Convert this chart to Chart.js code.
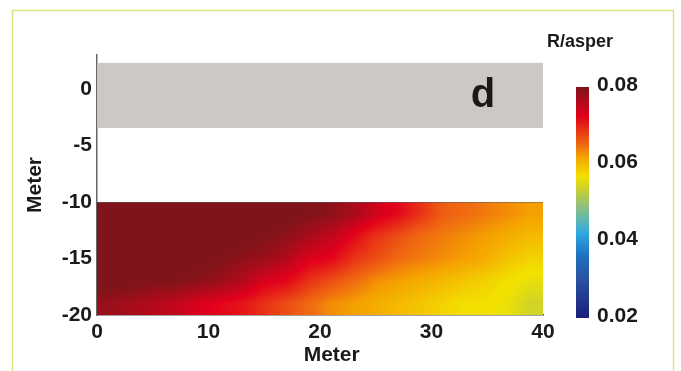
<!DOCTYPE html>
<html><head><meta charset="utf-8">
<script src="https://cdn.jsdelivr.net/npm/chart.js@4/dist/chart.umd.min.js"></script>
<style>html,body{margin:0;padding:0;background:#fff}#wrap{width:681px;height:371px;position:relative}</style>
</head><body><div id="wrap"><canvas id="c" width="681" height="371"></canvas></div>
<script>
// ---- data ----
const xTicks = [0, 10, 20, 30, 40];
const yTicks = [-20, -15, -10, -5, 0];
const colorTicks = [0.02, 0.04, 0.06, 0.08];
const colorRange = [0.02, 0.08];
const gridX = [1, 3, 5, 7, 9, 11, 13, 15, 17, 19, 21, 23, 25, 27, 29, 31, 33, 35, 37, 39];
const gridY = [-11, -13, -15, -17, -19];
const rowM11 = [.082, .082, .082, .082, .082, .082, .082, .081, .081, .080, .079, .077, .074, .072, .069, .066, .065, .064, .063, .062];
const rowM13 = [.082, .082, .082, .082, .082, .081, .081, .080, .079, .077, .075, .072, .069, .067, .065, .064, .063, .062, .061, .060];
const rowM15 = [.082, .082, .082, .081, .081, .080, .079, .078, .076, .073, .072, .069, .067, .065, .064, .063, .062, .061, .059, .058];
const rowM17 = [.081, .081, .080, .080, .079, .078, .076, .073, .072, .069, .067, .065, .063, .062, .061, .060, .059, .058, .057, .056];
const rowM19 = [.078, .077, .076, .075, .073, .072, .071, .069, .067, .065, .063, .062, .061, .060, .059, .058, .057, .057, .056, .054];
const gridValues = [rowM11, rowM13, rowM15, rowM17, rowM19];
const heatX = [0, 40];
const heatY = [-10, -20];
const grayX = [0, 40];
const grayY = [2.3, -3.45];
const panelLabel = 'd';
const colorTitle = 'R/asper';

// ---- colormap ----
const cmap = [
  [0.0200, [27, 31, 122]],
  [0.0300, [42, 82, 160]],
  [0.0360, [32, 112, 192]],
  [0.0420, [48, 168, 224]],
  [0.0456, [96, 184, 176]],
  [0.0490, [144, 192, 128]],
  [0.0533, [200, 208, 48]],
  [0.0568, [242, 226, 0]],
  [0.0620, [245, 160, 0]],
  [0.0646, [240, 112, 16]],
  [0.0724, [226, 0, 27]],
  [0.0800, [128, 20, 26]]
];
function colorFor(v) {
  if (v <= cmap[0][0]) return cmap[0][1];
  if (v >= cmap[cmap.length - 1][0]) return cmap[cmap.length - 1][1];
  for (let i = 1; i < cmap.length; i++) {
    if (v <= cmap[i][0]) {
      const a = cmap[i - 1], b = cmap[i];
      const t = (v - a[0]) / (b[0] - a[0]);
      return [0, 1, 2].map(k => a[1][k] + (b[1][k] - a[1][k]) * t);
    }
  }
}
function fracIndex(arr, v) {
  const n = arr.length;
  const asc = arr[n - 1] > arr[0];
  if (asc ? v <= arr[0] : v >= arr[0]) return 0;
  if (asc ? v >= arr[n - 1] : v <= arr[n - 1]) return n - 1;
  for (let i = 1; i < n; i++) {
    if (asc ? v <= arr[i] : v >= arr[i]) return i - 1 + (v - arr[i - 1]) / (arr[i] - arr[i - 1]);
  }
  return n - 1;
}
function sample(x, y) {
  const fx = fracIndex(gridX, x), fy = fracIndex(gridY, y);
  const i0 = Math.floor(fx), j0 = Math.floor(fy);
  const i1 = Math.min(i0 + 1, gridX.length - 1), j1 = Math.min(j0 + 1, gridY.length - 1);
  const tx = fx - i0, ty = fy - j0;
  const a = gridValues[j0][i0] * (1 - tx) + gridValues[j0][i1] * tx;
  const b = gridValues[j1][i0] * (1 - tx) + gridValues[j1][i1] * tx;
  return a * (1 - ty) + b * ty;
}

const FONT = "'Liberation Sans', Arial, sans-serif";
const TXT = '#1a1a1a';

const framePlugin = {
  id: 'frame',
  beforeDraw(chart) {
    const ctx = chart.ctx;
    ctx.save();
    ctx.fillStyle = '#fff';
    ctx.fillRect(0, 0, chart.width, chart.height);
    ctx.strokeStyle = '#dbe37f';
    ctx.lineWidth = 1.5;
    ctx.beginPath();
    ctx.moveTo(12.5, 371); ctx.lineTo(12.5, 10.5); ctx.lineTo(673.5, 10.5); ctx.lineTo(673.5, 371);
    ctx.stroke();
    ctx.restore();
  }
};

const heatPlugin = {
  id: 'heat',
  beforeDatasetsDraw(chart) {
    const ctx = chart.ctx, xs = chart.scales.x, ys = chart.scales.y;
    // gray band
    const gx0 = xs.getPixelForValue(grayX[0]), gx1 = xs.getPixelForValue(grayX[1]);
    const gy0 = ys.getPixelForValue(grayY[0]), gy1 = ys.getPixelForValue(grayY[1]);
    ctx.save();
    ctx.fillStyle = '#ccc8c5';
    ctx.fillRect(gx0, gy0, gx1 - gx0, gy1 - gy0);
    // heat field
    const px0 = Math.round(xs.getPixelForValue(heatX[0])), px1 = Math.round(xs.getPixelForValue(heatX[1]));
    const py0 = Math.round(ys.getPixelForValue(heatY[0])), py1 = Math.round(ys.getPixelForValue(heatY[1]));
    const w = px1 - px0, h = py1 - py0;
    const off = document.createElement('canvas');
    off.width = w; off.height = h;
    const octx = off.getContext('2d');
    const img = octx.createImageData(w, h);
    for (let j = 0; j < h; j++) {
      const yv = ys.getValueForPixel(py0 + j + 0.5);
      for (let i = 0; i < w; i++) {
        const xv = xs.getValueForPixel(px0 + i + 0.5);
        const c = colorFor(sample(xv, yv));
        const k = (j * w + i) * 4;
        img.data[k] = c[0]; img.data[k + 1] = c[1]; img.data[k + 2] = c[2]; img.data[k + 3] = 255;
      }
    }
    octx.putImageData(img, 0, 0);
    ctx.drawImage(off, px0, py0);
    ctx.strokeStyle = 'rgba(90,90,90,0.5)';
    ctx.lineWidth = 1;
    ctx.beginPath(); ctx.moveTo(px0, py0 + 0.5); ctx.lineTo(px1, py0 + 0.5); ctx.stroke();
    ctx.restore();
  },
  afterDraw(chart) {
    const ctx = chart.ctx;
    ctx.save();
    // colorbar
    const cbL = 576, cbW = 13, cbTop = 87, cbBot = 318;
    const pos = v => cbBot - (v - colorRange[0]) / (colorRange[1] - colorRange[0]) * (cbBot - cbTop);
    for (let y = cbTop; y < cbBot; y++) {
      const v = colorRange[1] - (y + 0.5 - cbTop) / (cbBot - cbTop) * (colorRange[1] - colorRange[0]);
      const c = colorFor(v);
      ctx.fillStyle = `rgb(${c[0]|0},${c[1]|0},${c[2]|0})`;
      ctx.fillRect(cbL, y, cbW, 1);
    }
    ctx.fillStyle = TXT;
    ctx.font = `bold 21px ${FONT}`;
    ctx.textAlign = 'left';
    ctx.textBaseline = 'middle';
    colorTicks.forEach(v => ctx.fillText(v.toFixed(2), 597, pos(v) - 2));
    ctx.font = `bold 18px ${FONT}`;
    ctx.textAlign = 'center';
    ctx.fillText(colorTitle, 580, 42);
    // panel label
    ctx.font = `bold 40px ${FONT}`;
    ctx.textBaseline = 'alphabetic';
    ctx.fillText(panelLabel, 483, 107);
    ctx.restore();
  }
};

const points = [];
gridY.forEach((y, j) => gridX.forEach((x, i) => points.push({ x, y, v: gridValues[j][i] })));

new Chart(document.getElementById('c'), {
  type: 'scatter',
  data: { datasets: [{ data: points, pointRadius: 0, pointHoverRadius: 0, showLine: false }] },
  options: {
    responsive: false, animation: false, devicePixelRatio: 1,
    layout: { padding: { left: 0, right: 138, top: 55, bottom: 0 } },
    plugins: { legend: { display: false }, tooltip: { enabled: false } },
    scales: {
      x: {
        type: 'linear', min: 0, max: 40,
        afterBuildTicks: s => { s.ticks = xTicks.map(v => ({ value: v })); },
        afterFit: s => { s.height = 56; },
        grid: { display: false, drawTicks: false },
        border: { display: true, color: '#444', width: 1.5 },
        ticks: { color: TXT, font: { family: FONT, size: 21, weight: 'bold' }, padding: 5, maxRotation: 0 },
        title: { display: true, text: '    Meter', color: TXT, font: { family: FONT, size: 21, weight: 'bold' }, padding: { top: 0, bottom: 3 } }
      },
      y: {
        type: 'linear', min: -20, max: 3,
        afterBuildTicks: s => { s.ticks = yTicks.map(v => ({ value: v })); },
        afterFit: s => { s.width = 97; },
        grid: { display: false, drawTicks: false },
        border: { display: true, color: '#666', width: 1.5 },
        ticks: { color: TXT, font: { family: FONT, size: 21, weight: 'bold' }, padding: 5 },
        title: { display: true, text: 'Meter', color: TXT, font: { family: FONT, size: 21, weight: 'bold' }, padding: { top: 23, bottom: 0 } }
      }
    }
  },
  plugins: [framePlugin, heatPlugin]
});
</script>
</body></html>
